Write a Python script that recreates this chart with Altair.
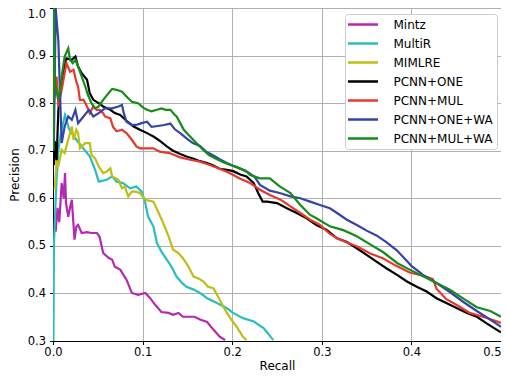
import altair as alt
import pandas as pd

names = ["Mintz", "MultiR", "MIMLRE", "PCNN+ONE", "PCNN+MUL", "PCNN+ONE+WA", "PCNN+MUL+WA"]
colors = ["#b428b4", "#28bebe", "#bebe14", "#000000", "#e8382c", "#3444a8", "#168c18"]

mintz_r = [0.003, 0.005, 0.007, 0.0097, 0.012, 0.0134, 0.0145, 0.017, 0.019, 0.021, 0.022, 0.024,
           0.026, 0.028, 0.032, 0.038, 0.043, 0.049, 0.052, 0.056, 0.062, 0.066, 0.069, 0.075,
           0.082, 0.088, 0.095, 0.103, 0.108, 0.114, 0.121, 0.129, 0.134, 0.140, 0.145, 0.153,
           0.158, 0.164, 0.172, 0.179, 0.186, 0.192]
mintz_p = [0.53, 0.58, 0.55, 0.632, 0.60, 0.653, 0.59, 0.561, 0.58, 0.597, 0.569, 0.513,
           0.54, 0.544, 0.527, 0.529, 0.527, 0.527, 0.519, 0.485, 0.475, 0.471, 0.456, 0.45,
           0.429, 0.401, 0.397, 0.401, 0.391, 0.376, 0.361, 0.359, 0.355, 0.359, 0.351, 0.351,
           0.351, 0.345, 0.34, 0.324, 0.309, 0.302]

multir_r = [0.0005, 0.001, 0.002, 0.004, 0.006, 0.009, 0.0134, 0.018, 0.026, 0.032, 0.041, 0.047,
            0.051, 0.060, 0.066, 0.071, 0.078, 0.086, 0.093, 0.099, 0.103, 0.106, 0.112, 0.116,
            0.121, 0.127, 0.132, 0.138, 0.144, 0.149, 0.157, 0.164, 0.172, 0.183, 0.194, 0.201,
            0.212, 0.224, 0.235, 0.244, 0.246]
multir_p = [0.30, 0.50, 0.55, 0.64, 0.70, 0.74, 0.775, 0.745, 0.723, 0.709, 0.688, 0.66,
            0.635, 0.639, 0.646, 0.635, 0.632, 0.621, 0.625, 0.614, 0.59, 0.562, 0.541, 0.506,
            0.488, 0.471, 0.457, 0.435, 0.422, 0.414, 0.408, 0.401, 0.39, 0.38, 0.369, 0.359,
            0.348, 0.341, 0.327, 0.306, 0.302]

mimlre_r = [0.002, 0.004, 0.006, 0.0097, 0.013, 0.019, 0.021, 0.023, 0.026, 0.028, 0.030, 0.036,
            0.041, 0.043, 0.047, 0.051, 0.056, 0.060, 0.064, 0.066, 0.073, 0.077, 0.080, 0.084,
            0.088, 0.092, 0.097, 0.103, 0.112, 0.118, 0.123, 0.129, 0.134, 0.140, 0.145, 0.151,
            0.157, 0.162, 0.168, 0.173, 0.179, 0.184, 0.188, 0.194, 0.199, 0.205, 0.212, 0.216]
mimlre_p = [0.62, 0.68, 0.667, 0.702, 0.695, 0.737, 0.751, 0.723, 0.744, 0.737, 0.705, 0.716,
            0.716, 0.691, 0.684, 0.667, 0.653, 0.656, 0.663, 0.646, 0.639, 0.621, 0.625, 0.604,
            0.614, 0.614, 0.611, 0.597, 0.593, 0.569, 0.548, 0.520, 0.492, 0.485, 0.474, 0.457,
            0.435, 0.432, 0.425, 0.414, 0.411, 0.394, 0.380, 0.359, 0.345, 0.330, 0.309, 0.302]

one_r = [0.001, 0.002, 0.004, 0.006, 0.0097, 0.015, 0.021, 0.025, 0.028, 0.032, 0.038, 0.041,
         0.045, 0.051, 0.056, 0.064, 0.069, 0.075, 0.082, 0.090, 0.097, 0.105, 0.112, 0.119,
         0.127, 0.134, 0.142, 0.149, 0.157, 0.164, 0.172, 0.179, 0.186, 0.194, 0.201, 0.209,
         0.216, 0.224, 0.229, 0.234, 0.239, 0.250, 0.261, 0.272, 0.283, 0.294, 0.305, 0.317,
         0.328, 0.339, 0.350, 0.361, 0.372, 0.384, 0.395, 0.406, 0.417, 0.428, 0.439, 0.451,
         0.462, 0.473, 0.484, 0.495, 0.500]
one_p = [0.67, 0.72, 0.68, 0.786, 0.849, 0.894, 0.891, 0.898, 0.877, 0.863, 0.849, 0.821,
         0.807, 0.80, 0.793, 0.786, 0.779, 0.775, 0.763, 0.751, 0.744, 0.737, 0.730, 0.721,
         0.709, 0.70, 0.693, 0.688, 0.683, 0.678, 0.674, 0.669, 0.662, 0.66, 0.657, 0.65,
         0.646, 0.632, 0.611, 0.593, 0.593, 0.590, 0.579, 0.569, 0.558, 0.544, 0.534, 0.516,
         0.508, 0.495, 0.481, 0.467, 0.453, 0.439, 0.425, 0.414, 0.404, 0.39, 0.38, 0.369,
         0.359, 0.351, 0.337, 0.324, 0.318]

mul_r = [0.001, 0.004, 0.006, 0.0097, 0.013, 0.015, 0.019, 0.023, 0.026, 0.028, 0.030, 0.034,
         0.038, 0.041, 0.045, 0.049, 0.052, 0.056, 0.058, 0.064, 0.067, 0.071, 0.077, 0.082,
         0.088, 0.093, 0.097, 0.105, 0.112, 0.119, 0.130, 0.142, 0.153, 0.164, 0.175, 0.186,
         0.197, 0.209, 0.220, 0.231, 0.242, 0.254, 0.265, 0.276, 0.287, 0.298, 0.309, 0.317,
         0.328, 0.339, 0.354, 0.368, 0.383, 0.398, 0.415, 0.424, 0.428, 0.439, 0.454, 0.465,
         0.480, 0.491, 0.500]
mul_p = [0.80, 0.856, 0.793, 0.828, 0.863, 0.884, 0.866, 0.870, 0.845, 0.835, 0.807, 0.807,
         0.793, 0.779, 0.793, 0.786, 0.786, 0.779, 0.772, 0.768, 0.750, 0.741, 0.744, 0.737,
         0.723, 0.709, 0.705, 0.705, 0.705, 0.698, 0.695, 0.686, 0.681, 0.677, 0.67, 0.662,
         0.653, 0.641, 0.632, 0.618, 0.607, 0.597, 0.583, 0.569, 0.555, 0.544, 0.525, 0.516,
         0.507, 0.499, 0.484, 0.474, 0.458, 0.444, 0.436, 0.43, 0.410, 0.388, 0.372, 0.359,
         0.351, 0.344, 0.338]

onewa_r = [0.001, 0.003, 0.006, 0.0075, 0.0097, 0.013, 0.017, 0.021, 0.025, 0.028, 0.034, 0.040,
           0.045, 0.051, 0.058, 0.066, 0.073, 0.077, 0.079, 0.082, 0.088, 0.094, 0.099, 0.105,
           0.110, 0.117, 0.124, 0.131, 0.136, 0.142, 0.149, 0.156, 0.164, 0.171, 0.179, 0.186,
           0.194, 0.204, 0.215, 0.225, 0.231, 0.242, 0.253, 0.265, 0.276, 0.287, 0.298, 0.309,
           0.317, 0.328, 0.339, 0.350, 0.361, 0.372, 0.384, 0.395, 0.400, 0.413, 0.428, 0.443,
           0.458, 0.473, 0.488, 0.500]
onewa_p = [0.72, 1.0, 0.93, 0.84, 0.716, 0.751, 0.772, 0.765, 0.786, 0.758, 0.772, 0.786,
           0.772, 0.779, 0.789, 0.789, 0.793, 0.796, 0.779, 0.761, 0.754, 0.755, 0.758, 0.761,
           0.750, 0.752, 0.754, 0.757, 0.745, 0.737, 0.726, 0.716, 0.71, 0.698, 0.69, 0.682,
           0.674, 0.666, 0.658, 0.645, 0.628, 0.616, 0.611, 0.604, 0.600, 0.593, 0.586, 0.579,
           0.569, 0.555, 0.544, 0.532, 0.522, 0.508, 0.49, 0.468, 0.458, 0.439, 0.422, 0.403,
           0.382, 0.363, 0.345, 0.33]

mulwa_r = [0.0005, 0.001, 0.002, 0.006, 0.0097, 0.013, 0.017, 0.019, 0.022, 0.025, 0.028, 0.032,
           0.036, 0.039, 0.043, 0.047, 0.051, 0.056, 0.062, 0.066, 0.071, 0.077, 0.082, 0.088,
           0.095, 0.101, 0.105, 0.110, 0.116, 0.121, 0.126, 0.131, 0.136, 0.138, 0.142, 0.146,
           0.153, 0.160, 0.166, 0.174, 0.183, 0.190, 0.198, 0.205, 0.216, 0.220, 0.231, 0.242,
           0.253, 0.265, 0.276, 0.287, 0.294, 0.309, 0.324, 0.339, 0.354, 0.369, 0.384, 0.398,
           0.413, 0.428, 0.443, 0.458, 0.473, 0.488, 0.500]
mulwa_p = [0.70, 1.0, 0.842, 0.807, 0.856, 0.898, 0.915, 0.891, 0.884, 0.891, 0.877, 0.856,
           0.835, 0.817, 0.80, 0.789, 0.793, 0.807, 0.821, 0.83, 0.828, 0.824, 0.814, 0.803,
           0.80, 0.79, 0.786, 0.783, 0.786, 0.789, 0.786, 0.786, 0.775, 0.772, 0.758, 0.744,
           0.730, 0.716, 0.705, 0.691, 0.682, 0.676, 0.670, 0.666, 0.656, 0.649, 0.642, 0.642,
           0.625, 0.611, 0.586, 0.565, 0.558, 0.541, 0.533, 0.52, 0.503, 0.486, 0.464, 0.450,
           0.436, 0.422, 0.408, 0.389, 0.371, 0.363, 0.351]

series = [
    (names[0], mintz_r, mintz_p),
    (names[1], multir_r, multir_p),
    (names[2], mimlre_r, mimlre_p),
    (names[3], one_r, one_p),
    (names[4], mul_r, mul_p),
    (names[5], onewa_r, onewa_p),
    (names[6], mulwa_r, mulwa_p),
]

rows = []
for name, rs, ps in series:
    for j, (r, p) in enumerate(zip(rs, ps)):
        rows.append({"model": name, "recall": r, "precision": p, "idx": j})
df = pd.DataFrame(rows)

x_ticks = [0.0, 0.1, 0.2, 0.3, 0.4, 0.5]
y_ticks = [0.3, 0.4, 0.5, 0.6, 0.7, 0.8, 0.9, 1.0]

chart = alt.Chart(df).mark_line(strokeWidth=2.2, clip=True).encode(
    x=alt.X("recall:Q", scale=alt.Scale(domain=[0, 0.5], nice=False, zero=False),
            axis=alt.Axis(values=x_ticks, format=".1f", title="Recall",
                          labelPadding=2, titlePadding=2,
                          labelAlign={"condition": {"test": "datum.value >= 0.49",
                                                    "value": "right"},
                                      "value": "center"})),
    y=alt.Y("precision:Q", scale=alt.Scale(domain=[0.3, 1.0], nice=False, zero=False),
            axis=alt.Axis(values=y_ticks, format=".1f", title="Precision",
                          labelPadding=4, titlePadding=6,
                          labelBaseline={"condition": {"test": "datum.value >= 0.99",
                                                       "value": "top"},
                                         "value": "middle"})),
    color=alt.Color("model:N", scale=alt.Scale(domain=names, range=colors),
                    legend=alt.Legend(title=None, orient="none", legendX=292, legendY=6,
                                      symbolType="M-3,0H3", symbolSize=100,
                                      symbolStrokeWidth=2.5, symbolOffset=7.5,
                                      labelOffset=24, labelFontSize=12,
                                      labelFont="DejaVu Sans", labelColor="black",
                                      labelLimit=300, rowPadding=6, padding=4,
                                      fillColor="white", strokeColor="#cccccc",
                                      cornerRadius=3)),
    order=alt.Order("idx:Q"),
).properties(
    width=448, height=333,
    autosize=alt.AutoSizeParams(type="none"),
    padding={"left": 45, "top": 0, "right": 0, "bottom": 33},
).configure_view(
    stroke="black", strokeWidth=1
).configure_axis(
    domainColor="black", domainWidth=1, tickColor="black", tickSize=3.5, tickWidth=1,
    labelFont="DejaVu Sans", labelFontSize=11.5, labelColor="black",
    titleFont="DejaVu Sans", titleFontSize=12, titleFontWeight="normal", titleColor="black",
    gridColor="#b0b0b0", gridWidth=1, gridOpacity=1,
)

chart.save("out.html", embed_options={"renderer": "svg", "actions": False})
